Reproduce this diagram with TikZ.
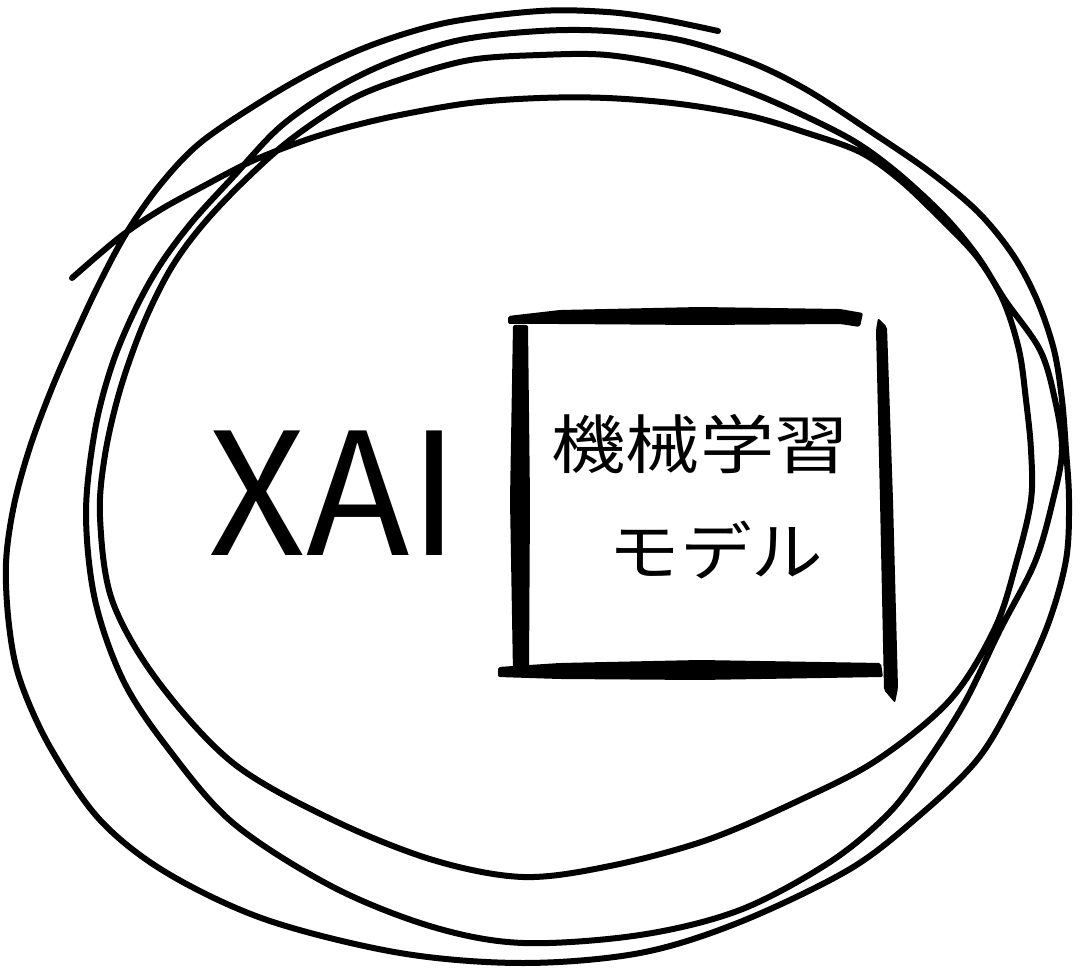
\documentclass[tikz,border=0pt]{standalone}
\usepackage{fontspec}
\usepackage{graphicx}
\newfontfamily\jpfont{Noto Sans CJK JP}
\tikzset{
  scribble/.style={line width=6pt, line cap=round, line join=round, draw=black},
  brush/.style={fill=black, rounded corners=2pt},
  bigtxt/.style={font=\jpfont\fontsize{170}{180}\selectfont, inner sep=0pt},
  jptxt/.style={font=\jpfont\fontsize{64}{70}\selectfont, inner sep=0pt}
}
\begin{document}
\begin{tikzpicture}[x=1pt,y=-1pt]
\fill[white] (0,0) rectangle (1080,976);
\useasboundingbox (0,0) rectangle (1080,976);
% spiral scribble
\draw[scribble] plot[smooth, tension=0.55] coordinates {
(718,31) (660,19) (607,12) (540,11) (450,22) (380,42) (320,68) (262,101) (200,143) (160,185) (127,232) (100,282) (76,333) (52,388) (30,447) (14,505) (6,563) (9,625) (20,680) (50,747) (100,820) (167,873) (267,920) (400,953) (523,963) (640,953) (740,922) (850,869) (920,815) (977,760) (1013,700) (1047,627) (1066,560) (1069,500) (1066,450) (1062,400) (1054,350) (1037,300) (1013,255) (978,212) (930,172) (873,133) (807,90) (750,62) (680,40) (607,31) (540,31)
(460,40) (390,62) (333,90) (280,127) (233,177) (192,222) (160,265) (135,310) (112,365) (95,430) (86,513) (95,600) (123,680) (167,747) (233,823) (333,887) (433,927) (523,943) (640,935) (740,910) (830,862) (890,812) (927,762) (965,702) (1000,630) (1035,562) (1053,500) (1062,450) (1055,400) (1040,350) (1005,300) (978,257) (945,217) (900,175) (857,143) (807,117) (750,92) (680,68) (607,55) (540,55)
(470,60) (405,78) (350,100) (290,140) (240,185) (200,228) (170,270) (143,325) (120,390) (105,455) (100,517) (112,600) (157,680) (233,763) (333,820) (433,860) (523,877) (610,866) (707,840) (800,800) (877,760) (950,700) (995,628) (1017,560) (1031,500) (1031,450) (1026,400) (1019,350) (1003,300) (977,257) (940,218) (900,180) (860,152) (807,133) (750,116) (680,104) (607,98) (540,98)
(470,103) (400,115) (345,128) (300,142) (250,162) (200,188) (160,210) (120,237) (72,278)
};
% brush box
\fill[brush] (508,316) -- (560,310) -- (700,307) -- (840,309) -- (863,313) -- (860,327) -- (840,324) -- (700,325) -- (560,324) -- (508,324) -- cycle;
\fill[brush] (513,325) -- (528,325) -- (530,500) -- (529,673) -- (513,673) -- (510,500) -- cycle;
\fill[brush] (498,667) -- (560,663) -- (700,660) -- (881,663) -- (883,677) -- (700,680) -- (560,679) -- (498,677) -- cycle;
\fill[brush] (878,318) -- (887,327) -- (893,500) -- (898,688) -- (895,703) -- (884,690) -- (880,500) -- (876,330) -- cycle;
% texts
\node[bigtxt, anchor=base] (xai) at (334,555) {XAI};
\node[jptxt, anchor=base] (ml) at (700,468) {\scalebox{1.16}[1]{機械学習}};
\node[jptxt, anchor=base] (model) at (716,575) {\scalebox{1.12}[1]{モデル}};
\end{tikzpicture}
\end{document}
